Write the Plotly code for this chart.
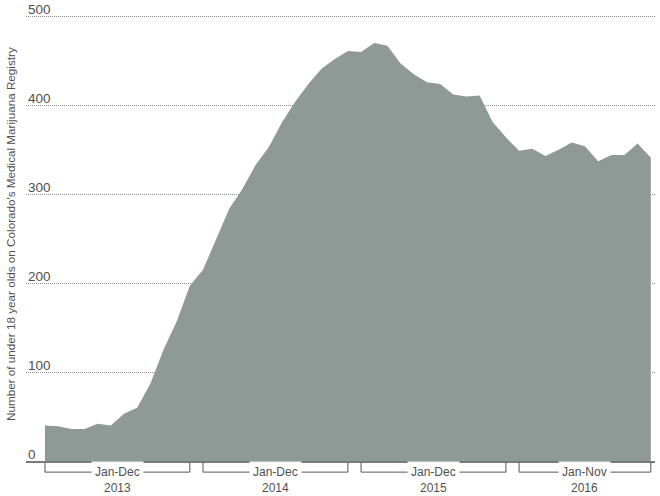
import plotly.graph_objects as go

# ---- data ----
years = ["2013", "2014", "2015", "2016"]
month_names = ["Jan", "Feb", "Mar", "Apr", "May", "Jun",
               "Jul", "Aug", "Sep", "Oct", "Nov", "Dec"]
values_2013 = [40, 39, 36, 36, 42, 40, 53, 60, 87, 125, 157, 197]
values_2014 = [215, 250, 284, 306, 333, 353, 381, 404, 424, 441, 452, 461]
values_2015 = [460, 470, 467, 447, 435, 426, 424, 412, 410, 411, 381, 364]
values_2016 = [349, 351, 343, 350, 358, 354, 337, 344, 344, 357, 341]
y_ticks = [0, 100, 200, 300, 400, 500]
y_title = "Number of under 18 year olds on Colorado's Medical Marijuana Registry"

series_by_year = [values_2013, values_2014, values_2015, values_2016]
months, values, groups = [], [], []
for yr, vals in zip(years, series_by_year):
    start = len(months)
    for m, v in zip(month_names, vals):
        months.append(f"{m} {yr}")
        values.append(v)
    end = len(months) - 1
    groups.append((f"{month_names[0]}-{month_names[len(vals) - 1]}", yr, start, end))

AREA = "#8f9995"
TEXT = "#505050"
FONT = "Liberation Sans"

fig = go.Figure()
fig.add_trace(go.Scatter(
    x=months, y=values, mode="lines", fill="tozeroy",
    line=dict(width=0, color=AREA), fillcolor=AREA,
    hoverinfo="x+y", showlegend=False,
))

annotations = []
for t in y_ticks:
    annotations.append(dict(
        xref="paper", yref="y", x=0, y=t, text=str(t), showarrow=False,
        xanchor="left", yanchor="bottom", yshift=-3,
        font=dict(family=FONT, size=13.5, color=TEXT),
    ))
annotations.append(dict(
    xref="paper", yref="paper", x=-0.0254, y=0.5, text=y_title,
    showarrow=False, textangle=-90, xanchor="center", yanchor="middle",
    font=dict(family=FONT, size=11.7, color=TEXT),
))

shapes = []
y_top, y_bar, y_year = -0.003, -0.0245, -0.06
for label, yr, s, e in groups:
    for x in (s, e):
        shapes.append(dict(type="line", xref="x", yref="paper", x0=x, x1=x,
                           y0=y_top, y1=y_bar, line=dict(color="#555", width=1)))
    shapes.append(dict(type="line", xref="x", yref="paper", x0=s, x1=e,
                       y0=y_bar, y1=y_bar, line=dict(color="#555", width=1)))
    annotations.append(dict(
        xref="x", yref="paper", x=(s + e) / 2, y=y_bar, text=label,
        showarrow=False, xanchor="center", yanchor="middle",
        bgcolor="white", borderpad=3,
        font=dict(family=FONT, size=12, color=TEXT),
    ))
    annotations.append(dict(
        xref="x", yref="paper", x=(s + e) / 2, y=y_year, text=yr,
        showarrow=False, xanchor="center", yanchor="middle",
        font=dict(family=FONT, size=12, color=TEXT),
    ))

fig.update_layout(
    width=660, height=496,
    margin=dict(l=26, r=5, t=7, b=35),
    paper_bgcolor="white", plot_bgcolor="white",
    xaxis=dict(
        type="category", range=[-1.44, 46.32], showgrid=False,
        showticklabels=False, ticks="", showline=True,
        linecolor="#7a7a7a", linewidth=2, zeroline=False, fixedrange=True,
    ),
    yaxis=dict(
        range=[0, 510.5], showgrid=True, gridcolor="#8a8a8a", gridwidth=1,
        griddash="1px,1px", tickvals=y_ticks, showticklabels=False, ticks="",
        zeroline=False, showline=False, fixedrange=True,
    ),
    annotations=annotations,
    shapes=shapes,
    showlegend=False,
)

fig.write_html(
    "out.html",
    config={"displayModeBar": False},
    post_script="document.body.style.margin='0';document.body.style.padding='0';",
)
